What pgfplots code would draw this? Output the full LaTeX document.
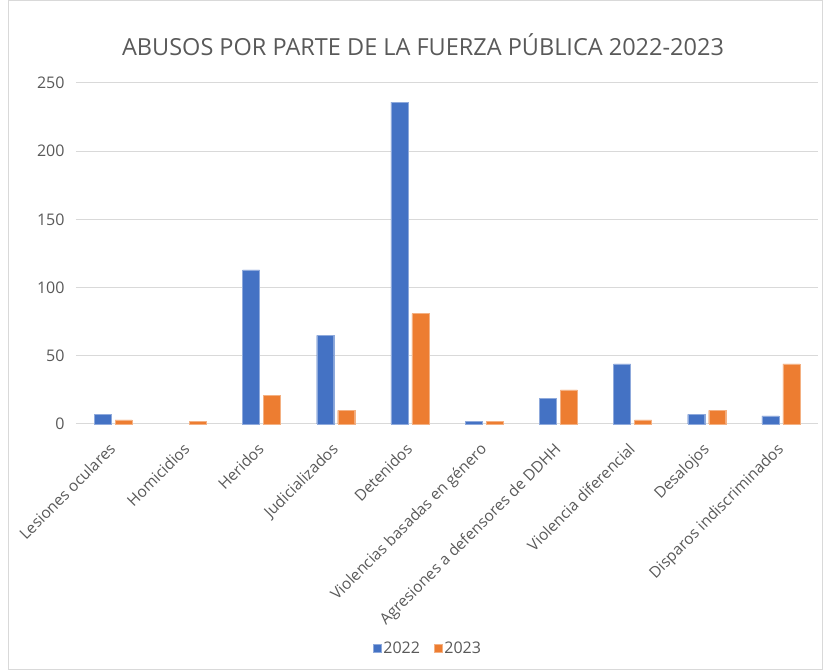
\documentclass[border=0pt]{standalone}
\usepackage{pgfplots}
\pgfplotsset{compat=1.18}
\usepackage{fontspec}
\setmainfont{Open Sans}
\definecolor{cblue}{HTML}{4472C4}
\definecolor{corange}{HTML}{ED7D31}
\definecolor{ctext}{HTML}{595959}
\definecolor{cgrid}{HTML}{D9D9D9}
\begin{document}
\begin{tikzpicture}[x=1pt,y=1pt]
\path[use as bounding box] (0,0) rectangle (825,671);
\draw[cgrid, line width=1pt] (8,1) rectangle (822,670);
\node[text=ctext, font=\fontsize{23.5}{26}\selectfont] at (423,626) {ABUSOS POR PARTE DE LA FUERZA PÚBLICA 2022-2023};
\begin{axis}[
  at={(76pt,247pt)}, anchor=south west,
  scale only axis, width=742pt, height=341pt,
  ymin=0, ymax=250, ytick={0,50,...,250},
  xmin=-0.5, xmax=9.5,
  xtick={0,...,9},
  xticklabels={Lesiones oculares,Homicidios,Heridos,Judicializados,Detenidos,Violencias basadas en género,Agresiones a defensores de DDHH,Violencia diferencial,Desalojos,Disparos indiscriminados},
  xticklabel style={rotate=45, anchor=north east, inner sep=1pt, xshift=-15pt, yshift=-8pt, font=\fontsize{15.5}{18}\selectfont, text=ctext},
  yticklabel style={font=\fontsize{16}{18}\selectfont, text=ctext, xshift=-8pt},
  /pgf/number format/assume math mode=true,
  ymajorgrids, grid style={cgrid, line width=1pt},
  axis line style={draw=none},
  axis x line*=bottom, axis y line*=left,
  x axis line style={draw=cgrid, line width=1pt},
  major tick length=0pt,
  ybar, bar width=17pt,
  legend style={at={(352pt,-224pt)}, anchor=center, draw=none, legend columns=2, font=\fontsize{16}{18}\selectfont, text=ctext, /tikz/every even column/.append style={column sep=12pt}},
  legend image code/.code={\fill[#1] (0pt,-4pt) rectangle (8pt,4pt);},
  clip=false,
]
\addplot[fill=cblue, draw=cblue!60!white, bar shift=-10.5pt] coordinates {(0,7) (2,113) (3,65) (4,236) (5,2) (6,19) (7,44) (8,7) (9,6)};
\addplot[fill=corange, draw=corange!60!white, bar shift=10.5pt] coordinates {(0,3) (1,2) (2,21) (3,10) (4,81) (5,2) (6,25) (7,3) (8,10) (9,44)};
\legend{2022,2023}
\end{axis}
\end{tikzpicture}
\end{document}
